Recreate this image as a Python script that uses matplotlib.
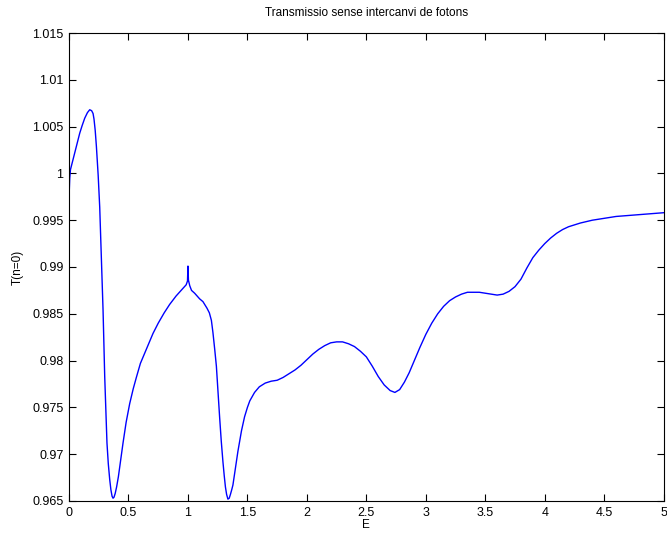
import matplotlib
matplotlib.use("Agg")
import matplotlib.pyplot as plt
from matplotlib.ticker import FuncFormatter

plt.rcParams['font.family'] = ['Liberation Sans', 'DejaVu Sans']

# Energy values and transmission
energy = [0, 0.006, 0.012, 0.03, 0.048, 0.07, 0.09, 0.11, 0.132, 0.155,
          0.174, 0.19, 0.202, 0.21, 0.22, 0.23, 0.245, 0.258, 0.265, 0.272,
          0.286, 0.30, 0.31, 0.319, 0.33, 0.342, 0.352, 0.362, 0.37, 0.378,
          0.388, 0.40, 0.415, 0.43, 0.454, 0.48, 0.51, 0.54, 0.566, 0.6,
          0.65, 0.706, 0.75, 0.8, 0.846, 0.9, 0.95, 0.985, 0.996, 1.0,
          1.004, 1.015, 1.03, 1.056, 1.098, 1.126, 1.16, 1.18, 1.197, 1.21,
          1.225, 1.239, 1.252, 1.266, 1.28, 1.294, 1.305, 1.315, 1.325, 1.336,
          1.347, 1.357, 1.368, 1.378, 1.4, 1.42, 1.45, 1.476, 1.5, 1.52,
          1.56, 1.6, 1.65, 1.7, 1.75, 1.8, 1.85, 1.9, 1.95, 2.0,
          2.05, 2.1, 2.15, 2.2, 2.25, 2.3, 2.35, 2.4, 2.45, 2.5,
          2.55, 2.6, 2.65, 2.7, 2.74, 2.78, 2.82, 2.86, 2.9, 2.95,
          3.0, 3.05, 3.1, 3.15, 3.2, 3.25, 3.3, 3.35, 3.4, 3.45,
          3.5, 3.55, 3.6, 3.65, 3.7, 3.75, 3.8, 3.85, 3.9, 3.95,
          4.0, 4.05, 4.1, 4.15, 4.2, 4.3, 4.4, 4.5, 4.6, 4.7,
          4.8, 4.9, 5.0]
transmission = [0.9975, 0.9995, 1.0004, 1.0013, 1.0022, 1.0033, 1.0043, 1.0051, 1.0059, 1.0065,
                1.0068, 1.0067, 1.0064, 1.0058, 1.0046, 1.0029, 0.9998, 0.9964, 0.9937, 0.9908,
                0.9854, 0.9783, 0.9745, 0.9712, 0.9690, 0.9673, 0.9662, 0.9655, 0.9653, 0.9654,
                0.9658, 0.9665, 0.9676, 0.9690, 0.9712, 0.9734, 0.9754, 0.9770, 0.9782, 0.9797,
                0.9812, 0.9829, 0.9840, 0.9851, 0.9860, 0.9869, 0.9876, 0.9881, 0.9885, 0.9901,
                0.9886, 0.9880, 0.9875, 0.9872, 0.9866, 0.9863, 0.9856, 0.9851, 0.9843, 0.9830,
                0.9812, 0.9794, 0.9768, 0.9740, 0.9714, 0.9692, 0.9677, 0.9665, 0.9657, 0.9652,
                0.9653, 0.9657, 0.9662, 0.9667, 0.9686, 0.9703, 0.9725, 0.9740, 0.9750, 0.9757,
                0.9766, 0.9772, 0.9776, 0.9778, 0.9779, 0.9782, 0.9786, 0.9790, 0.9795, 0.9801,
                0.9807, 0.9812, 0.9816, 0.9819, 0.9820, 0.9820, 0.9818, 0.9815, 0.9810, 0.9804,
                0.9794, 0.9783, 0.9774, 0.9768, 0.9766, 0.9769, 0.9777, 0.9787, 0.9799, 0.9814,
                0.9828, 0.9840, 0.9850, 0.9858, 0.9864, 0.9868, 0.9871, 0.9873, 0.9873, 0.9873,
                0.9872, 0.9871, 0.9870, 0.9871, 0.9874, 0.9879, 0.9887, 0.9899, 0.9910, 0.9918,
                0.9925, 0.9931, 0.9936, 0.9940, 0.9943, 0.9947, 0.9950, 0.9952, 0.9954, 0.9955,
                0.9956, 0.9957, 0.9958]

x_ticks = [0, 0.5, 1, 1.5, 2, 2.5, 3, 3.5, 4, 4.5, 5]
y_ticks = [0.965, 0.97, 0.975, 0.98, 0.985, 0.99, 0.995, 1.0, 1.005, 1.01, 1.015]

fig = plt.figure(figsize=(6.67, 5.34), dpi=100)
ax = fig.add_axes([0.1035, 0.0618, 0.8915, 0.8764])
ax.plot(energy, transmission, color='blue', linewidth=1.0)

ax.set_xlim(0, 5)
ax.set_ylim(0.965, 1.015)
ax.set_xticks(x_ticks)
ax.set_yticks(y_ticks)
ax.xaxis.set_major_formatter(FuncFormatter(lambda v, p: f"{v:g}"))
ax.yaxis.set_major_formatter(FuncFormatter(lambda v, p: f"{round(v, 3):g}"))
ax.tick_params(direction='in', length=5, width=0.8, labelsize=9,
               top=True, right=True, pad=4)
for spine in ax.spines.values():
    spine.set_linewidth(0.8)

ax.set_title('Transmissio sense intercanvi de fotons', fontsize=8.5, pad=12)
ax.set_xlabel('E', fontsize=8.5, labelpad=0)
ax.set_ylabel('T(n=0)', fontsize=8.5, labelpad=6)

fig.savefig('out.png', dpi=100)
